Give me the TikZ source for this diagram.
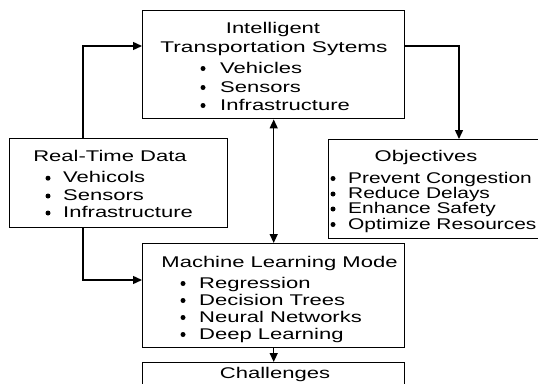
\documentclass[tikz,border=0pt]{standalone}
\usepackage{fontspec}
\setmainfont{Liberation Sans}[FakeStretch=1.42]
\usetikzlibrary{arrows.meta}

\begin{document}
\begin{tikzpicture}[x=1pt,y=-1pt,
  box/.style={draw, line width=1.4pt, inner sep=0pt, anchor=north west},
  txt/.style={inner sep=0pt, anchor=base, font=\fontsize{15.5}{18}\selectfont},
  item/.style={txt, anchor=base west},
  bul/.style={circle, fill, inner sep=0pt, minimum size=5pt, yshift=4.5pt},
  arr/.style={line width=1.4pt, -{Triangle[length=9pt,width=8pt]}},
  dbl/.style={line width=1.4pt, {Triangle[length=9pt,width=8pt]}-{Triangle[length=9pt,width=8pt]}},
]
\useasboundingbox (0,0) rectangle (538,383);
\clip (0,0) rectangle (538,383);

% boxes
\node[box, minimum width=262pt, minimum height=108pt] (its) at (142,10) {};
\node[box, minimum width=218pt, minimum height=89pt]  (rtd) at (9,138) {};
\node[box, minimum width=220pt, minimum height=99pt]  (obj) at (328,139) {};
\node[box, minimum width=262pt, minimum height=104pt] (ml)  at (142,243) {};
\node[box, minimum width=262pt, minimum height=60pt]  (ch)  at (142,362) {};

% Intelligent Transportation Systems
\node[txt] (its-t1) at (273,33) {Intelligent};
\node[txt, xscale=1.03] (its-t2) at (274,52) {Transportation Sytems};
\foreach \y/\t [count=\i] in {73/Vehicles, 92/Sensors, 110/Infrastructure} {
  \node[bul] (its-b\i) at (203,\y) {};
  \node[item] (its-i\i) at (220,\y) {\t};
}

% Real-Time Data
\node[txt] (rtd-t) at (110,161.7) {Real-Time Data};
\foreach \y/\t [count=\i] in {182.7/Vehicols, 200.5/Sensors, 217.5/Infrastructure} {
  \node[bul] (rtd-b\i) at (48,\y) {};
  \node[item] (rtd-i\i) at (63,\y) {\t};
}

% Objectives
\node[txt] (obj-t) at (426,161.7) {Objectives};
\foreach \y/\t [count=\i] in {183/Prevent Congestion, 198.5/Reduce Delays, 213.5/Enhance Safety, 229/Optimize Resources} {
  \node[bul] (obj-b\i) at (333,\y) {};
  \node[item, xscale=0.95] (obj-i\i) at (348,\y) {\t};
}

% Machine Learning Model
\node[txt] (ml-t) at (279.5,267) {Machine Learning Mode};
\foreach \y/\t [count=\i] in {288/Regression, 305/Decision Trees, 322/Neural Networks, 339/Deep Learning} {
  \node[bul] (ml-b\i) at (183,\y) {};
  \node[item] (ml-i\i) at (199,\y) {\t};
}

% Challenges
\node[txt] (ch-t) at (275,378.5) {Challenges};

% connectors
\coordinate (a1) at (83,46);
\coordinate (a2) at (459,46);
\coordinate (a3) at (83,280);
\draw[arr] (rtd.north -| a1) |- (its.west |- a1);
\draw[arr] (its.east |- a2) -| (obj.north -| a2);
\draw[arr] (rtd.south -| a3) |- (ml.west |- a3);
\draw[dbl] (its.south) -- (ml.north);
\draw[arr] (ml.south) -- (ch.north);
\end{tikzpicture}
\end{document}
